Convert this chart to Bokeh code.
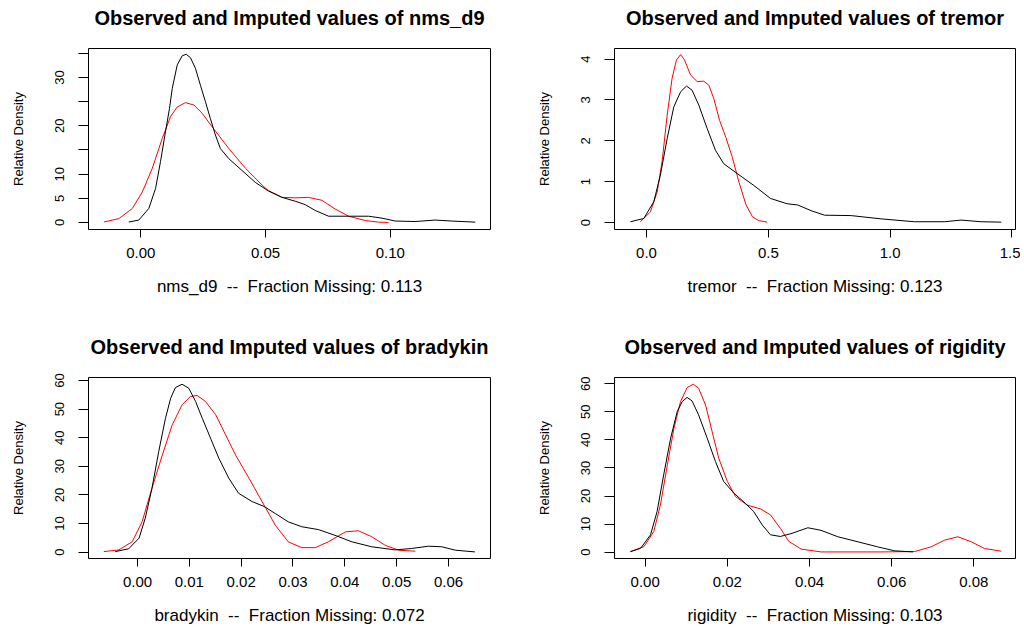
from bokeh.plotting import figure
from bokeh.layouts import column, row
from bokeh.models import Range1d, FixedTicker, LinearAxis
from bokeh.embed import file_html
from bokeh.resources import INLINE

# ---------------- data ----------------
nms_obs_x = [-0.0048, -0.0008, 0.0032, 0.0059, 0.0079, 0.0099, 0.0115, 0.0126, 0.0146, 0.0166,
             0.0182, 0.0199, 0.0219, 0.0239, 0.0259, 0.0279, 0.0299, 0.0319, 0.0353, 0.0405,
             0.0459, 0.0512, 0.0566, 0.0619, 0.0659, 0.0699, 0.0753, 0.0833, 0.0913, 0.0967,
             0.1020, 0.1100, 0.1180, 0.1247, 0.1341]
nms_obs_y = [0.1, 0.5, 2.9, 7.0, 12.6, 18.8, 23.6, 27.7, 32.6, 34.5,
             34.8, 34.1, 31.9, 28.4, 25.0, 21.5, 18.1, 15.3, 13.2, 10.8,
             8.3, 6.5, 5.2, 4.4, 3.7, 2.5, 1.3, 1.3, 1.3, 0.9,
             0.3, 0.2, 0.5, 0.3, 0.07]
nms_imp_x = [-0.0148, -0.0088, -0.0034, 0.0006, 0.0046, 0.0086, 0.0119, 0.0146, 0.0179, 0.0213,
             0.0246, 0.0286, 0.0353, 0.0420, 0.0487, 0.0512, 0.0566, 0.0619, 0.0672, 0.0726,
             0.0779, 0.0833, 0.0900, 0.0953, 0.0993]
nms_imp_y = [0.1, 0.8, 2.9, 6.3, 11.2, 17.4, 21.9, 23.9, 24.8, 24.3,
             22.6, 19.8, 15.3, 11.2, 7.7, 6.6, 5.2, 5.1, 5.2, 4.6,
             2.8, 1.3, 0.4, 0.07, 0.0]

tre_obs_x = [-0.066, -0.011, 0.030, 0.057, 0.085, 0.112, 0.140, 0.164, 0.187, 0.215,
             0.249, 0.283, 0.317, 0.372, 0.440, 0.509, 0.577, 0.621, 0.676, 0.731,
             0.840, 0.963, 1.100, 1.223, 1.291, 1.373, 1.456]
tre_obs_y = [0.02, 0.10, 0.51, 1.16, 2.06, 2.83, 3.20, 3.34, 3.24, 2.87,
             2.30, 1.77, 1.44, 1.20, 0.91, 0.59, 0.46, 0.43, 0.29, 0.18,
             0.17, 0.09, 0.02, 0.02, 0.06, 0.02, 0.01]
tre_imp_x = [-0.025, 0.016, 0.044, 0.064, 0.085, 0.105, 0.123, 0.140, 0.156, 0.181,
             0.208, 0.235, 0.256, 0.276, 0.300, 0.326, 0.352, 0.380, 0.408, 0.435,
             0.460, 0.495]
tre_imp_y = [0.02, 0.26, 0.75, 1.49, 2.63, 3.53, 3.98, 4.11, 3.98, 3.61,
             3.45, 3.46, 3.36, 3.04, 2.50, 2.08, 1.60, 0.98, 0.44, 0.14,
             0.05, 0.01]

bra_obs_x = [-0.0043, -0.0017, 0.0003, 0.0015, 0.0028, 0.0041, 0.0054, 0.0064, 0.0073, 0.0086,
             0.0099, 0.0112, 0.0125, 0.0141, 0.0157, 0.0176, 0.0195, 0.0221, 0.0244, 0.0266,
             0.0291, 0.0317, 0.0349, 0.0381, 0.0414, 0.0452, 0.0497, 0.0529, 0.0561, 0.0587,
             0.0613, 0.0651]
bra_obs_y = [0.2, 1.2, 4.9, 11.9, 22.4, 35.2, 46.8, 53.8, 57.5, 58.7,
             57.3, 52.7, 46.8, 39.8, 32.8, 25.9, 20.6, 17.7, 16.0, 13.5,
             10.6, 8.9, 7.9, 5.9, 3.6, 1.9, 0.8, 1.3, 2.1, 1.9,
             0.7, 0.1]
bra_imp_x = [-0.0065, -0.0036, -0.0010, 0.0009, 0.0028, 0.0048, 0.0067, 0.0086, 0.0102, 0.0115,
             0.0131, 0.0151, 0.0170, 0.0189, 0.0215, 0.0244, 0.0266, 0.0291, 0.0317, 0.0343,
             0.0368, 0.0401, 0.0426, 0.0452, 0.0478, 0.0504, 0.0536]
bra_imp_y = [0.2, 0.8, 3.7, 10.7, 22.4, 34.0, 44.5, 51.5, 54.4, 54.8,
             52.7, 48.0, 41.0, 34.0, 25.9, 16.5, 9.4, 3.6, 1.6, 1.6,
             3.6, 7.1, 7.5, 5.4, 2.4, 0.7, 0.35]

rig_obs_x = [-0.0036, -0.0011, 0.0013, 0.0029, 0.0045, 0.0062, 0.0078, 0.0090, 0.0102, 0.0114,
             0.0130, 0.0151, 0.0171, 0.0191, 0.0216, 0.0244, 0.0264, 0.0285, 0.0305, 0.0329,
             0.0355, 0.0396, 0.0428, 0.0469, 0.0518, 0.0566, 0.0607, 0.0652]
rig_obs_y = [0.2, 1.4, 6.2, 14.5, 27.5, 40.6, 50.1, 53.6, 55.1, 53.9,
             48.9, 40.6, 32.3, 25.2, 21.0, 17.4, 14.5, 9.7, 6.2, 5.6,
             6.6, 8.7, 7.8, 5.5, 3.7, 1.9, 0.5, 0.1]
rig_imp_x = [-0.0036, -0.0003, 0.0021, 0.0037, 0.0054, 0.0070, 0.0086, 0.0102, 0.0117, 0.0130,
             0.0147, 0.0163, 0.0179, 0.0200, 0.0220, 0.0248, 0.0281, 0.0305, 0.0329, 0.0350,
             0.0380, 0.0428, 0.0574, 0.0656, 0.0696, 0.0729, 0.0761, 0.0794, 0.0826, 0.0867]
rig_imp_y = [0.2, 2.0, 7.4, 16.8, 31.1, 44.1, 53.6, 58.6, 59.8, 58.4,
             52.4, 42.9, 33.5, 25.2, 19.8, 16.8, 15.4, 13.3, 8.5, 3.8,
             1.1, 0.1, 0.1, 0.24, 1.9, 4.3, 5.5, 3.7, 1.3, 0.36]

variables = ["nms_d9", "tremor", "bradykin", "rigidity"]
fraction_missing = ["0.113", "0.123", "0.072", "0.103"]

nms_xticks = [0.0, 0.05, 0.10]
nms_xlabels = ["0.00", "0.05", "0.10"]
nms_yticks = [0, 5, 10, 15, 20, 25, 30, 35]
nms_ylabels = ["0", "5", "10", "", "20", "", "30", ""]

tre_xticks = [0.0, 0.5, 1.0, 1.5]
tre_xlabels = ["0.0", "0.5", "1.0", "1.5"]
tre_yticks = [0, 1, 2, 3, 4]
tre_ylabels = ["0", "1", "2", "3", "4"]

bra_xticks = [0.0, 0.01, 0.02, 0.03, 0.04, 0.05, 0.06]
bra_xlabels = ["0.00", "0.01", "0.02", "0.03", "0.04", "0.05", "0.06"]
bra_yticks = [0, 10, 20, 30, 40, 50, 60]
bra_ylabels = ["0", "10", "20", "30", "40", "50", "60"]

rig_xticks = [0.0, 0.02, 0.04, 0.06, 0.08]
rig_xlabels = ["0.00", "0.02", "0.04", "0.06", "0.08"]
rig_yticks = [0, 10, 20, 30, 40, 50, 60]
rig_ylabels = ["0", "10", "20", "30", "40", "50", "60"]

FONT = "Liberation Sans"
NB = "\u00a0"


def panel(var, frac, xr, yr, xticks, xlabels, yticks, ylabels,
          ox, oy, ix, iy, width, height, ml, mr, mt, mb):
    p = figure(width=width, height=height,
               x_range=Range1d(*xr), y_range=Range1d(*yr),
               output_backend="svg", toolbar_location=None,
               min_border_left=ml, min_border_right=mr,
               min_border_top=mt, min_border_bottom=mb)
    p.grid.visible = False
    p.outline_line_color = "black"
    p.outline_line_width = 1
    p.background_fill_color = "white"
    p.border_fill_color = "white"

    xa = p.below[0]
    ya = p.left[0]

    # title drawn as the label of an empty axis above the frame
    ta = LinearAxis(ticker=FixedTicker(ticks=[]))
    ta.axis_line_color = None
    ta.major_tick_line_color = None
    ta.minor_tick_line_color = None
    ta.major_tick_out = 0
    ta.major_tick_in = 0
    ta.minor_tick_out = 0
    ta.major_label_standoff = 0
    ta.axis_label = "Observed and Imputed values of " + var
    ta.axis_label_text_font = FONT
    ta.axis_label_text_font_size = "20px"
    ta.axis_label_text_font_style = "bold"
    ta.axis_label_text_color = "black"
    ta.axis_label_standoff = 20
    p.add_layout(ta, "above")

    p.line(ix, iy, line_color="#ff0000", line_width=1)
    p.line(ox, oy, line_color="black", line_width=1)

    xa.ticker = FixedTicker(ticks=xticks)
    xa.major_label_overrides = {t: l for t, l in zip(xticks, xlabels)}
    xa.axis_line_color = None
    xa.major_tick_out = 8
    xa.major_tick_in = 0
    xa.minor_tick_line_color = None
    xa.major_label_standoff = 10
    xa.major_label_text_font = FONT
    xa.major_label_text_font_size = "15px"
    xa.major_label_text_color = "black"
    xa.axis_label = var + NB + NB + "--" + NB + NB + "Fraction Missing: " + frac
    xa.axis_label_text_font = FONT
    xa.axis_label_text_font_size = "17px"
    xa.axis_label_text_font_style = "normal"
    xa.axis_label_text_color = "black"
    xa.axis_label_standoff = 16

    ya.ticker = FixedTicker(ticks=yticks)
    ya.major_label_overrides = {t: l for t, l in zip(yticks, ylabels)}
    ya.axis_line_color = None
    ya.major_tick_out = 10
    ya.major_tick_in = 0
    ya.minor_tick_line_color = None
    ya.major_label_orientation = "vertical"
    ya.major_label_standoff = 14
    ya.major_label_text_font = FONT
    ya.major_label_text_font_size = "13px"
    ya.major_label_text_color = "black"
    ya.axis_label = "Relative Density"
    ya.axis_label_text_font = FONT
    ya.axis_label_text_font_size = "13px"
    ya.axis_label_text_font_style = "normal"
    ya.axis_label_text_color = "black"
    ya.axis_label_standoff = 27
    return p


p1 = panel(variables[0], fraction_missing[0], (-0.02097, 0.1402), (-1.45, 36.0),
           nms_xticks, nms_xlabels, nms_yticks, nms_ylabels,
           nms_obs_x, nms_obs_y, nms_imp_x, nms_imp_y,
           512, 315, 88, 22, 48, 86)
p2 = panel(variables[1], fraction_missing[1], (-0.1313, 1.5144), (-0.17, 4.26),
           tre_xticks, tre_xlabels, tre_yticks, tre_ylabels,
           tre_obs_x, tre_obs_y, tre_imp_x, tre_imp_y,
           508, 315, 102, 5, 48, 86)
p3 = panel(variables[2], fraction_missing[2], (-0.00945, 0.0681), (-2.2, 61.05),
           bra_xticks, bra_xlabels, bra_yticks, bra_ylabels,
           bra_obs_x, bra_obs_y, bra_imp_x, bra_imp_y,
           512, 315, 88, 22, 62, 72)
p4 = panel(variables[3], fraction_missing[3], (-0.00747, 0.09015), (-2.24, 62.2),
           rig_xticks, rig_xlabels, rig_yticks, rig_ylabels,
           rig_obs_x, rig_obs_y, rig_imp_x, rig_imp_y,
           508, 315, 102, 5, 62, 72)

layout = column(row(p1, p2), row(p3, p4))
open("out.html", "w").write(file_html(layout, INLINE))
